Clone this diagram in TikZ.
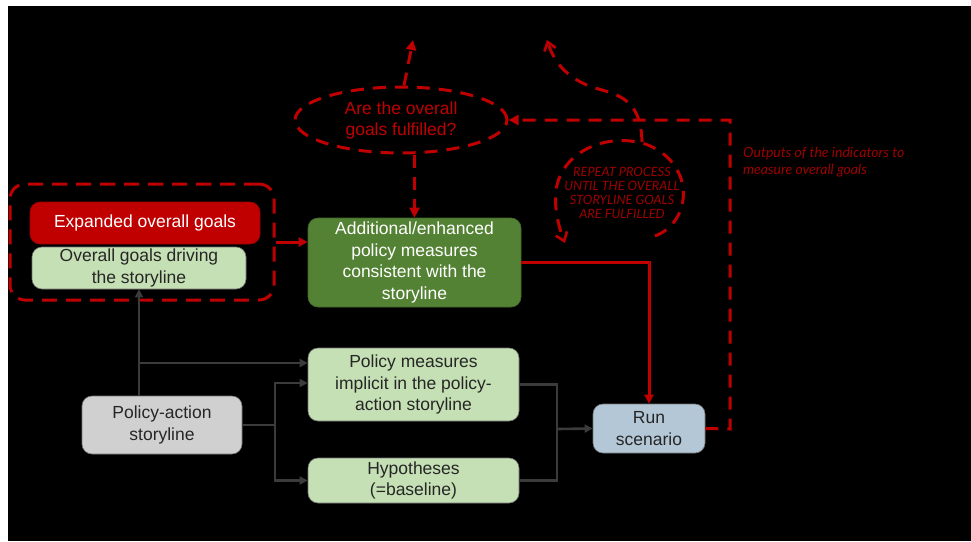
\documentclass[tikz,border=0pt]{standalone}
\usepackage{fontspec}
\setmainfont{Liberation Sans}
\newfontfamily\notefont{Lato}
\usetikzlibrary{arrows.meta,shapes.geometric,calc}
\definecolor{rd}{HTML}{C00000}
\definecolor{notered}{HTML}{9E0000}
\definecolor{dkgreen}{HTML}{548235}
\definecolor{ltgreen}{HTML}{C5E0B4}
\definecolor{ltgray}{HTML}{D0D0D0}
\definecolor{ltblue}{HTML}{B4C7D6}
\definecolor{wire}{HTML}{3B3B3B}
\definecolor{ink}{HTML}{262626}

\begin{document}
\begin{tikzpicture}[x=1pt,y=-1pt,
  box/.style={rectangle,rounded corners=10pt,align=center,inner sep=1pt,
    font=\fontsize{17.5}{21.5}\selectfont,text=ink,draw=black!55,line width=0.6pt},
  greybox/.style={box,fill=ltgray},
  palebox/.style={box,fill=ltgreen},
  wirearrow/.style={draw=wire,line width=2.6pt,-{Triangle[length=8pt,width=8pt]}},
  wireline/.style={draw=wire,line width=2.6pt},
  redarrow/.style={draw=rd,line width=3pt,-{Triangle[length=9pt,width=9pt]}},
  reddash/.style={draw=rd,line width=3pt,dash pattern=on 13pt off 9pt},
  reddasharrow/.style={reddash,-{Triangle[length=10pt,width=10pt]}},
  loopdash/.style={reddash,-{Straight Barb[length=8pt,width=12pt,line width=2.6pt]}},
  notesmall/.style={text=notered,font=\notefont\itshape\fontsize{12.8}{14.2}\selectfont},
  notelarge/.style={text=notered,font=\notefont\itshape\fontsize{14}{16.3}\selectfont},
]
% page and dark canvas
\useasboundingbox (0,0) rectangle (971,541);
\fill[white] (0,0) rectangle (971,541);
\fill[black] (8,6) rectangle (971,541);

% goal boxes and their dashed frame
\node[box,fill=rd,draw=rd!80!black,text=white,minimum width=230pt,minimum height=42pt] (goalsExp) at (145,223) {Expanded overall goals};
\node[palebox,minimum width=214pt,minimum height=42pt] (goalsDrv) at (139,268) {Overall goals driving\\the storyline};
\node[draw=rd,line width=3pt,dash pattern=on 15pt off 9pt,rounded corners=15pt,minimum width=264pt,minimum height=116pt] (grp) at (142,242) {};

% main boxes
\node[box,fill=dkgreen,draw=dkgreen!80!black,text=white,minimum width=213pt,minimum height=89pt] (addl) at (414.5,262.5) {Additional/enhanced\\policy measures\\consistent with the\\storyline};
\node[palebox,minimum width=211pt,minimum height=73pt] (impl) at (413.5,384.5) {Policy measures\\implicit in the policy-\\action storyline};
\node[palebox,minimum width=211pt,minimum height=45pt] (hypo) at (413.5,480.5) {Hypotheses\\(=baseline)};
\node[greybox,minimum width=160pt,minimum height=58pt] (pas) at (162,425) {Policy-action\\storyline};
\node[box,fill=ltblue,minimum width=112pt,minimum height=49pt] (run) at (649,428.5) {Run\\scenario};

% question ellipse
\node[ellipse,draw=rd,line width=3pt,dash pattern=on 13pt off 9pt,minimum width=212pt,minimum height=66pt,inner sep=0pt,align=center,text=rd,font=\fontsize{17.5}{21}\selectfont] (q) at (401,120) {Are the overall\\goals fulfilled?};

% notes
\node[notesmall,align=center,inner sep=0pt] (rep) at (622,193) {REPEAT PROCESS\\UNTIL THE OVERALL\\STORYLINE GOALS\\ARE FULFILLED};
\node[notelarge,align=left,anchor=west,inner sep=0pt] (outs) at (743,162) {Outputs of the indicators to\\measure overall goals};

% helper points
\coordinate (topA) at (413,40);
\coordinate (j1) at (139,363);
\coordinate (split) at (275,425);
\coordinate (merge) at (557,429);
\coordinate (fb) at (730,429);
\coordinate (fbTop) at (730,120);
\coordinate (loopTop) at (547,40);
\coordinate (loopIn) at (642,142);
\coordinate (loopStart) at (655,236);
\coordinate (loopEnd) at (565,243);

% grey connectors from the storyline
\draw[wirearrow] (goalsDrv.south |- pas.north) -- (goalsDrv.south);
\draw[wirearrow] (j1) -- (j1 -| impl.west);
\draw[wireline] (pas.east) -- (split);
\draw[wirearrow] (split) |- ($(impl.west)+(0,-1.5)$);
\draw[wirearrow] (split) |- (hypo.west);
\draw[wireline] (impl.east) -| (merge);
\draw[wireline] (hypo.east) -| (merge);
\draw[wirearrow] (merge) -- (run.west);

% red solid connectors
\draw[redarrow] (grp.east) -- (grp.east -| addl.west);
\draw[redarrow] (addl.east) -| (run.north);

% red dashed connectors
\draw[reddasharrow] ($(q.north)+(3,0)$) -- (topA);
\draw[reddasharrow] (addl.north |- q.south) -- (addl.north);
\draw[reddasharrow] (run.east) -- (fb) -- (fbTop) -- (q.east);

% repeat loop
\draw[loopdash] (loopIn) .. controls (641,100) and (620,95) .. (595,88)
  .. controls (570,80) and (555,65) .. (loopTop);
\draw[loopdash] (loopStart) .. controls (692,222) and (696,165) .. (648,145)
  .. controls (612,132) and (566,148) .. (557,185)
  .. controls (553,205) and (558,225) .. (loopEnd);
\end{tikzpicture}
\end{document}
